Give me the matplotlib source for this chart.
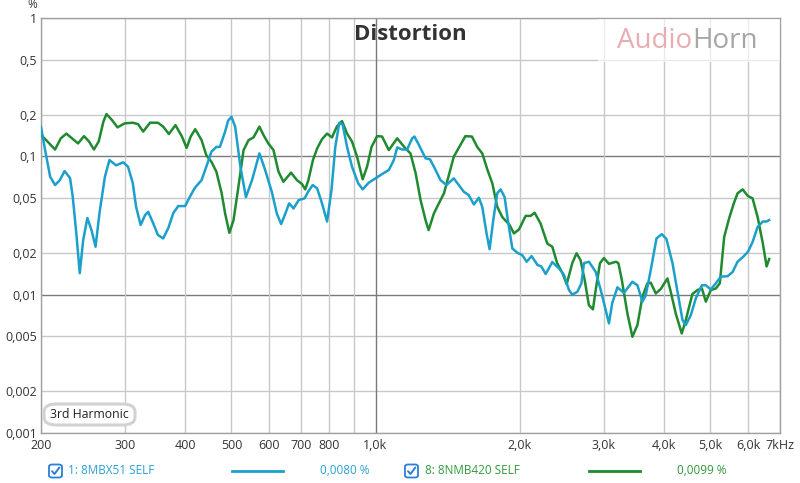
import matplotlib
matplotlib.use("Agg")
import matplotlib.pyplot as plt
from matplotlib.patches import FancyBboxPatch, Rectangle
from matplotlib.lines import Line2D

plt.rcParams['font.family'] = ['Open Sans', 'DejaVu Sans']

# ---------------- data ----------------
title = "Distortion"
y_ticks = [1, 0.5, 0.2, 0.1, 0.05, 0.02, 0.01, 0.005, 0.002, 0.001]
y_tick_labels = ["1", "0,5", "0,2", "0,1", "0,05", "0,02", "0,01", "0,005", "0,002", "0,001"]
y_major = [0.1, 0.01]
x_ticks = [200, 300, 400, 500, 600, 700, 800, 900, 1000, 2000, 3000, 4000, 5000, 6000, 7000]
x_tick_labels = ["200", "300", "400", "500", "600", "700", "800", "", "1,0k",
                 "2,0k", "3,0k", "4,0k", "5,0k", "6,0k", "7kHz"]
x_major = [1000]

blue_freq = [200, 204, 209, 214, 219, 224, 230, 233, 237, 241, 245, 250, 255, 260, 265,
             272, 278, 287, 297, 304, 311, 316, 323, 330, 335, 343, 351, 360, 369, 378,
             387, 400, 409, 419, 433, 443, 454, 465, 473, 485, 492, 500, 509, 522, 536,
             552, 572, 588, 607, 622, 635, 648, 660, 674, 691, 711, 723, 739, 755, 773,
             792, 809, 824, 840, 854, 872, 893, 920, 940, 968, 1000, 1032, 1066, 1092, 1110,
             1137, 1164, 1193, 1206, 1232, 1272, 1300, 1335, 1367, 1407, 1457, 1493, 1529,
             1566, 1605, 1644, 1671, 1706, 1731, 1762, 1796, 1825, 1861, 1890, 1931, 1978,
             2026, 2069, 2119, 2179, 2220, 2267, 2341, 2417, 2476, 2536, 2577, 2641, 2693,
             2726, 2793, 2884, 2955, 2979, 3074, 3123, 3202, 3304, 3441, 3525, 3611, 3670,
             3759, 3864, 3964, 4054, 4173, 4276, 4379, 4449, 4558, 4669, 4807, 4899, 5019,
             5142, 5266, 5442, 5573, 5707, 5846, 6000, 6134, 6286, 6446, 6563, 6645]
blue_pct = [0.163, 0.111, 0.0712, 0.062, 0.0673, 0.0783, 0.0697, 0.051, 0.0279, 0.0143,
            0.0248, 0.0358, 0.0293, 0.0222, 0.0389, 0.0712, 0.094, 0.0861, 0.0905, 0.0841,
            0.0641, 0.0432, 0.0319, 0.0376, 0.0397, 0.0329, 0.027, 0.0255, 0.0303, 0.0389,
            0.0437, 0.0437, 0.0507, 0.059, 0.0673, 0.0841, 0.108, 0.117, 0.117, 0.151,
            0.181, 0.193, 0.164, 0.0841, 0.0507, 0.0673, 0.105, 0.0796, 0.0555, 0.0386,
            0.0324, 0.0386, 0.0457, 0.042, 0.0483, 0.0497, 0.0555, 0.062, 0.0587, 0.0457,
            0.0338, 0.057, 0.117, 0.175, 0.169, 0.117, 0.0841, 0.0638, 0.0577, 0.0645,
            0.0693, 0.0745, 0.0796, 0.094, 0.116, 0.112, 0.112, 0.135, 0.139, 0.121,
            0.0967, 0.0951, 0.0796, 0.0673, 0.062, 0.0693, 0.062, 0.0555, 0.0524, 0.0449,
            0.0502, 0.0432, 0.0277, 0.0213, 0.0346, 0.054, 0.0577, 0.0507, 0.0346, 0.0216,
            0.0201, 0.0193, 0.0173, 0.019, 0.0164, 0.016, 0.0141, 0.0172, 0.0155, 0.0139,
            0.0108, 0.01, 0.0105, 0.0121, 0.0169, 0.0173, 0.0146, 0.0108, 0.00967, 0.0062,
            0.0087, 0.0113, 0.0103, 0.0124, 0.0117, 0.0089, 0.0099, 0.0151, 0.0255, 0.0274,
            0.0252, 0.0169, 0.0105, 0.00655, 0.00603, 0.00712, 0.0094, 0.0117, 0.0117, 0.0109,
            0.0121, 0.0135, 0.0136, 0.0146, 0.0173, 0.0186, 0.0204, 0.024, 0.0309, 0.0338,
            0.0338, 0.0346]

green_freq = [200, 205, 214, 220, 226, 231, 239, 246, 252, 258, 264, 270, 274, 281, 289,
              299, 311, 319, 327, 338, 351, 360, 370, 382, 394, 403, 411, 420, 433, 443,
              454, 465, 477, 485, 495, 505, 517, 530, 543, 556, 572, 583, 597, 612, 627,
              642, 666, 685, 702, 713, 724, 740, 755, 773, 792, 811, 830, 851, 872, 893,
              915, 940, 960, 981, 1008, 1032, 1066, 1110, 1155, 1183, 1213, 1242, 1272, 1291,
              1324, 1356, 1390, 1423, 1457, 1505, 1541, 1590, 1631, 1671, 1714, 1754, 1796,
              1840, 1906, 1946, 1994, 2059, 2109, 2150, 2212, 2285, 2341, 2396, 2459, 2508,
              2577, 2630, 2681, 2735, 2791, 2846, 2884, 2944, 3000, 3074, 3179, 3217, 3270,
              3360, 3441, 3525, 3611, 3700, 3759, 3851, 3945, 4073, 4138, 4240, 4363, 4449,
              4592, 4706, 4807, 4899, 5019, 5142, 5241, 5351, 5480, 5605, 5707, 5846, 6000,
              6134, 6286, 6446, 6563, 6645]
green_pct = [0.143, 0.131, 0.112, 0.135, 0.146, 0.137, 0.124, 0.14, 0.128, 0.112, 0.128,
             0.178, 0.202, 0.184, 0.162, 0.173, 0.175, 0.171, 0.151, 0.175, 0.175, 0.164,
             0.145, 0.168, 0.139, 0.115, 0.139, 0.157, 0.131, 0.102, 0.0914, 0.0774, 0.054,
             0.0386, 0.028, 0.0346, 0.0602, 0.111, 0.131, 0.137, 0.164, 0.143, 0.124, 0.111,
             0.0774, 0.0655, 0.0762, 0.0673, 0.0631, 0.0577, 0.0673, 0.094, 0.114, 0.133,
             0.146, 0.137, 0.164, 0.18, 0.146, 0.128, 0.0993, 0.0682, 0.0841, 0.117, 0.14,
             0.139, 0.111, 0.135, 0.114, 0.105, 0.0753, 0.0483, 0.0346, 0.0293, 0.0386,
             0.0457, 0.054, 0.0729, 0.0993, 0.121, 0.14, 0.139, 0.117, 0.105, 0.0796, 0.0638,
             0.0432, 0.0364, 0.0319, 0.0277, 0.0296, 0.0371, 0.0371, 0.0391, 0.0327, 0.0234,
             0.0222, 0.0169, 0.0143, 0.0119, 0.0169, 0.0199, 0.0178, 0.0128, 0.0084, 0.00783,
             0.0108, 0.0169, 0.0184, 0.0167, 0.0173, 0.0169, 0.0128, 0.00729, 0.00496,
             0.00603, 0.00967, 0.0121, 0.0122, 0.0102, 0.011, 0.0131, 0.0105, 0.00729,
             0.00524, 0.00655, 0.0101, 0.0108, 0.0111, 0.0089, 0.0108, 0.0111, 0.0121, 0.0261,
             0.0356, 0.0457, 0.054, 0.0577, 0.0516, 0.0497, 0.0364, 0.0234, 0.016, 0.0181]

series_names = ["1: 8MBX51 SELF", "8: 8NMB420 SELF"]
series_values = ["0,0080 %", "0,0099 %"]
annotation = "3rd Harmonic"
unit_label = "%"

BLUE = "#1ba0cb"
GREEN = "#1f8a30"
BLUE_TXT = "#2aa0d2"
GREEN_TXT = "#2f9a3c"

# ---------------- figure ----------------
W, H = 800, 483
fig = plt.figure(figsize=(W / 100, H / 100), dpi=100)
fig.patch.set_facecolor("white")


def fx(px):
    return px / W


def fy(py):
    return 1 - py / H


ax = fig.add_axes([fx(41), fy(433), fx(780) - fx(41), fy(18) - fy(433)])
ax.set_xscale("log")
ax.set_yscale("log")
ax.set_xlim(200, 7000)
ax.set_ylim(0.001, 1)

for yv in y_ticks:
    ax.axhline(yv, color="#7a7a7a" if yv in y_major else "#c8c8c8", lw=1.0, zorder=1)
for xv in x_ticks:
    ax.axvline(xv, color="#7a7a7a" if xv in x_major else "#c8c8c8", lw=1.0, zorder=1)

ax.yaxis.set_major_locator(matplotlib.ticker.FixedLocator(y_ticks))
ax.yaxis.set_major_formatter(matplotlib.ticker.FixedFormatter(y_tick_labels))
ax.yaxis.set_minor_locator(matplotlib.ticker.NullLocator())
ax.xaxis.set_major_locator(matplotlib.ticker.FixedLocator(x_ticks))
ax.xaxis.set_major_formatter(matplotlib.ticker.FixedFormatter(x_tick_labels))
ax.xaxis.set_minor_locator(matplotlib.ticker.NullLocator())
ax.tick_params(axis="both", length=0, labelsize=9, colors="#333333")
ax.tick_params(axis="y", pad=3)
ax.tick_params(axis="x", pad=4)
for s in ax.spines.values():
    s.set_color("#a0a0a0")
    s.set_linewidth(1.0)

ax.plot(green_freq, green_pct, color=GREEN, lw=1.8, zorder=3, solid_joinstyle="round")
ax.plot(blue_freq, blue_pct, color=BLUE, lw=1.8, zorder=4, solid_joinstyle="round")

# logo background
fig.patches.append(Rectangle((fx(598), fy(62)), fx(780) - fx(598), fy(19) - fy(62),
                             transform=fig.transFigure, facecolor="white", alpha=0.65,
                             edgecolor="none", zorder=5))

fig.text(fx(410.5), fy(35), title, ha="center", va="center", fontsize=16,
         fontweight="bold", color="#333333", zorder=6)
fig.text(fx(692), fy(41), "Audio", ha="right", va="center", fontsize=20,
         color="#e8adb2", zorder=6)
fig.text(fx(692), fy(41), "Horn", ha="left", va="center", fontsize=20,
         color="#a6a6a6", zorder=6)
fig.text(fx(32), fy(5), unit_label, ha="center", va="center", fontsize=8.5, color="#333333")

# annotation box
fig.patches.append(FancyBboxPatch((fx(44), fy(425)), fx(135) - fx(44), fy(404) - fy(425),
                                  boxstyle="round,pad=0,rounding_size=0.016",
                                  transform=fig.transFigure, facecolor="white",
                                  edgecolor="#d2d2d2", lw=2.2, zorder=6))
fig.text(fx(89.5), fy(414.5), annotation, ha="center", va="center", fontsize=8.8,
         color="#222222", zorder=7)


def checkbox(cx, cy):
    size = 13
    fig.patches.append(FancyBboxPatch((fx(cx - size / 2), fy(cy + size / 2)),
                                      fx(size), size / H,
                                      boxstyle="round,pad=0,rounding_size=0.004",
                                      transform=fig.transFigure, facecolor="white",
                                      edgecolor="#2b7fd6", lw=1.3))
    fig.lines.append(Line2D([fx(cx - 3.5), fx(cx - 1), fx(cx + 3.8)],
                            [fy(cy + 0.2), fy(cy + 3), fy(cy - 3.5)],
                            transform=fig.transFigure, color="#2b7fd6", lw=1.4,
                            solid_capstyle="round", solid_joinstyle="round"))


legend_y = 471
checkbox(55.5, legend_y)
fig.text(fx(68), fy(legend_y), series_names[0], ha="left", va="center", fontsize=8.5,
         color=BLUE_TXT)
fig.lines.append(Line2D([fx(232), fx(283)], [fy(legend_y), fy(legend_y)],
                        transform=fig.transFigure, color=BLUE, lw=2))
fig.text(fx(320), fy(legend_y), series_values[0], ha="left", va="center", fontsize=8.5,
         color=BLUE_TXT)

checkbox(411.5, legend_y)
fig.text(fx(425), fy(legend_y), series_names[1], ha="left", va="center", fontsize=8.5,
         color=GREEN_TXT)
fig.lines.append(Line2D([fx(589), fx(640)], [fy(legend_y), fy(legend_y)],
                        transform=fig.transFigure, color=GREEN, lw=2))
fig.text(fx(677), fy(legend_y), series_values[1], ha="left", va="center", fontsize=8.5,
         color=GREEN_TXT)

fig.savefig("out.png", dpi=100)
